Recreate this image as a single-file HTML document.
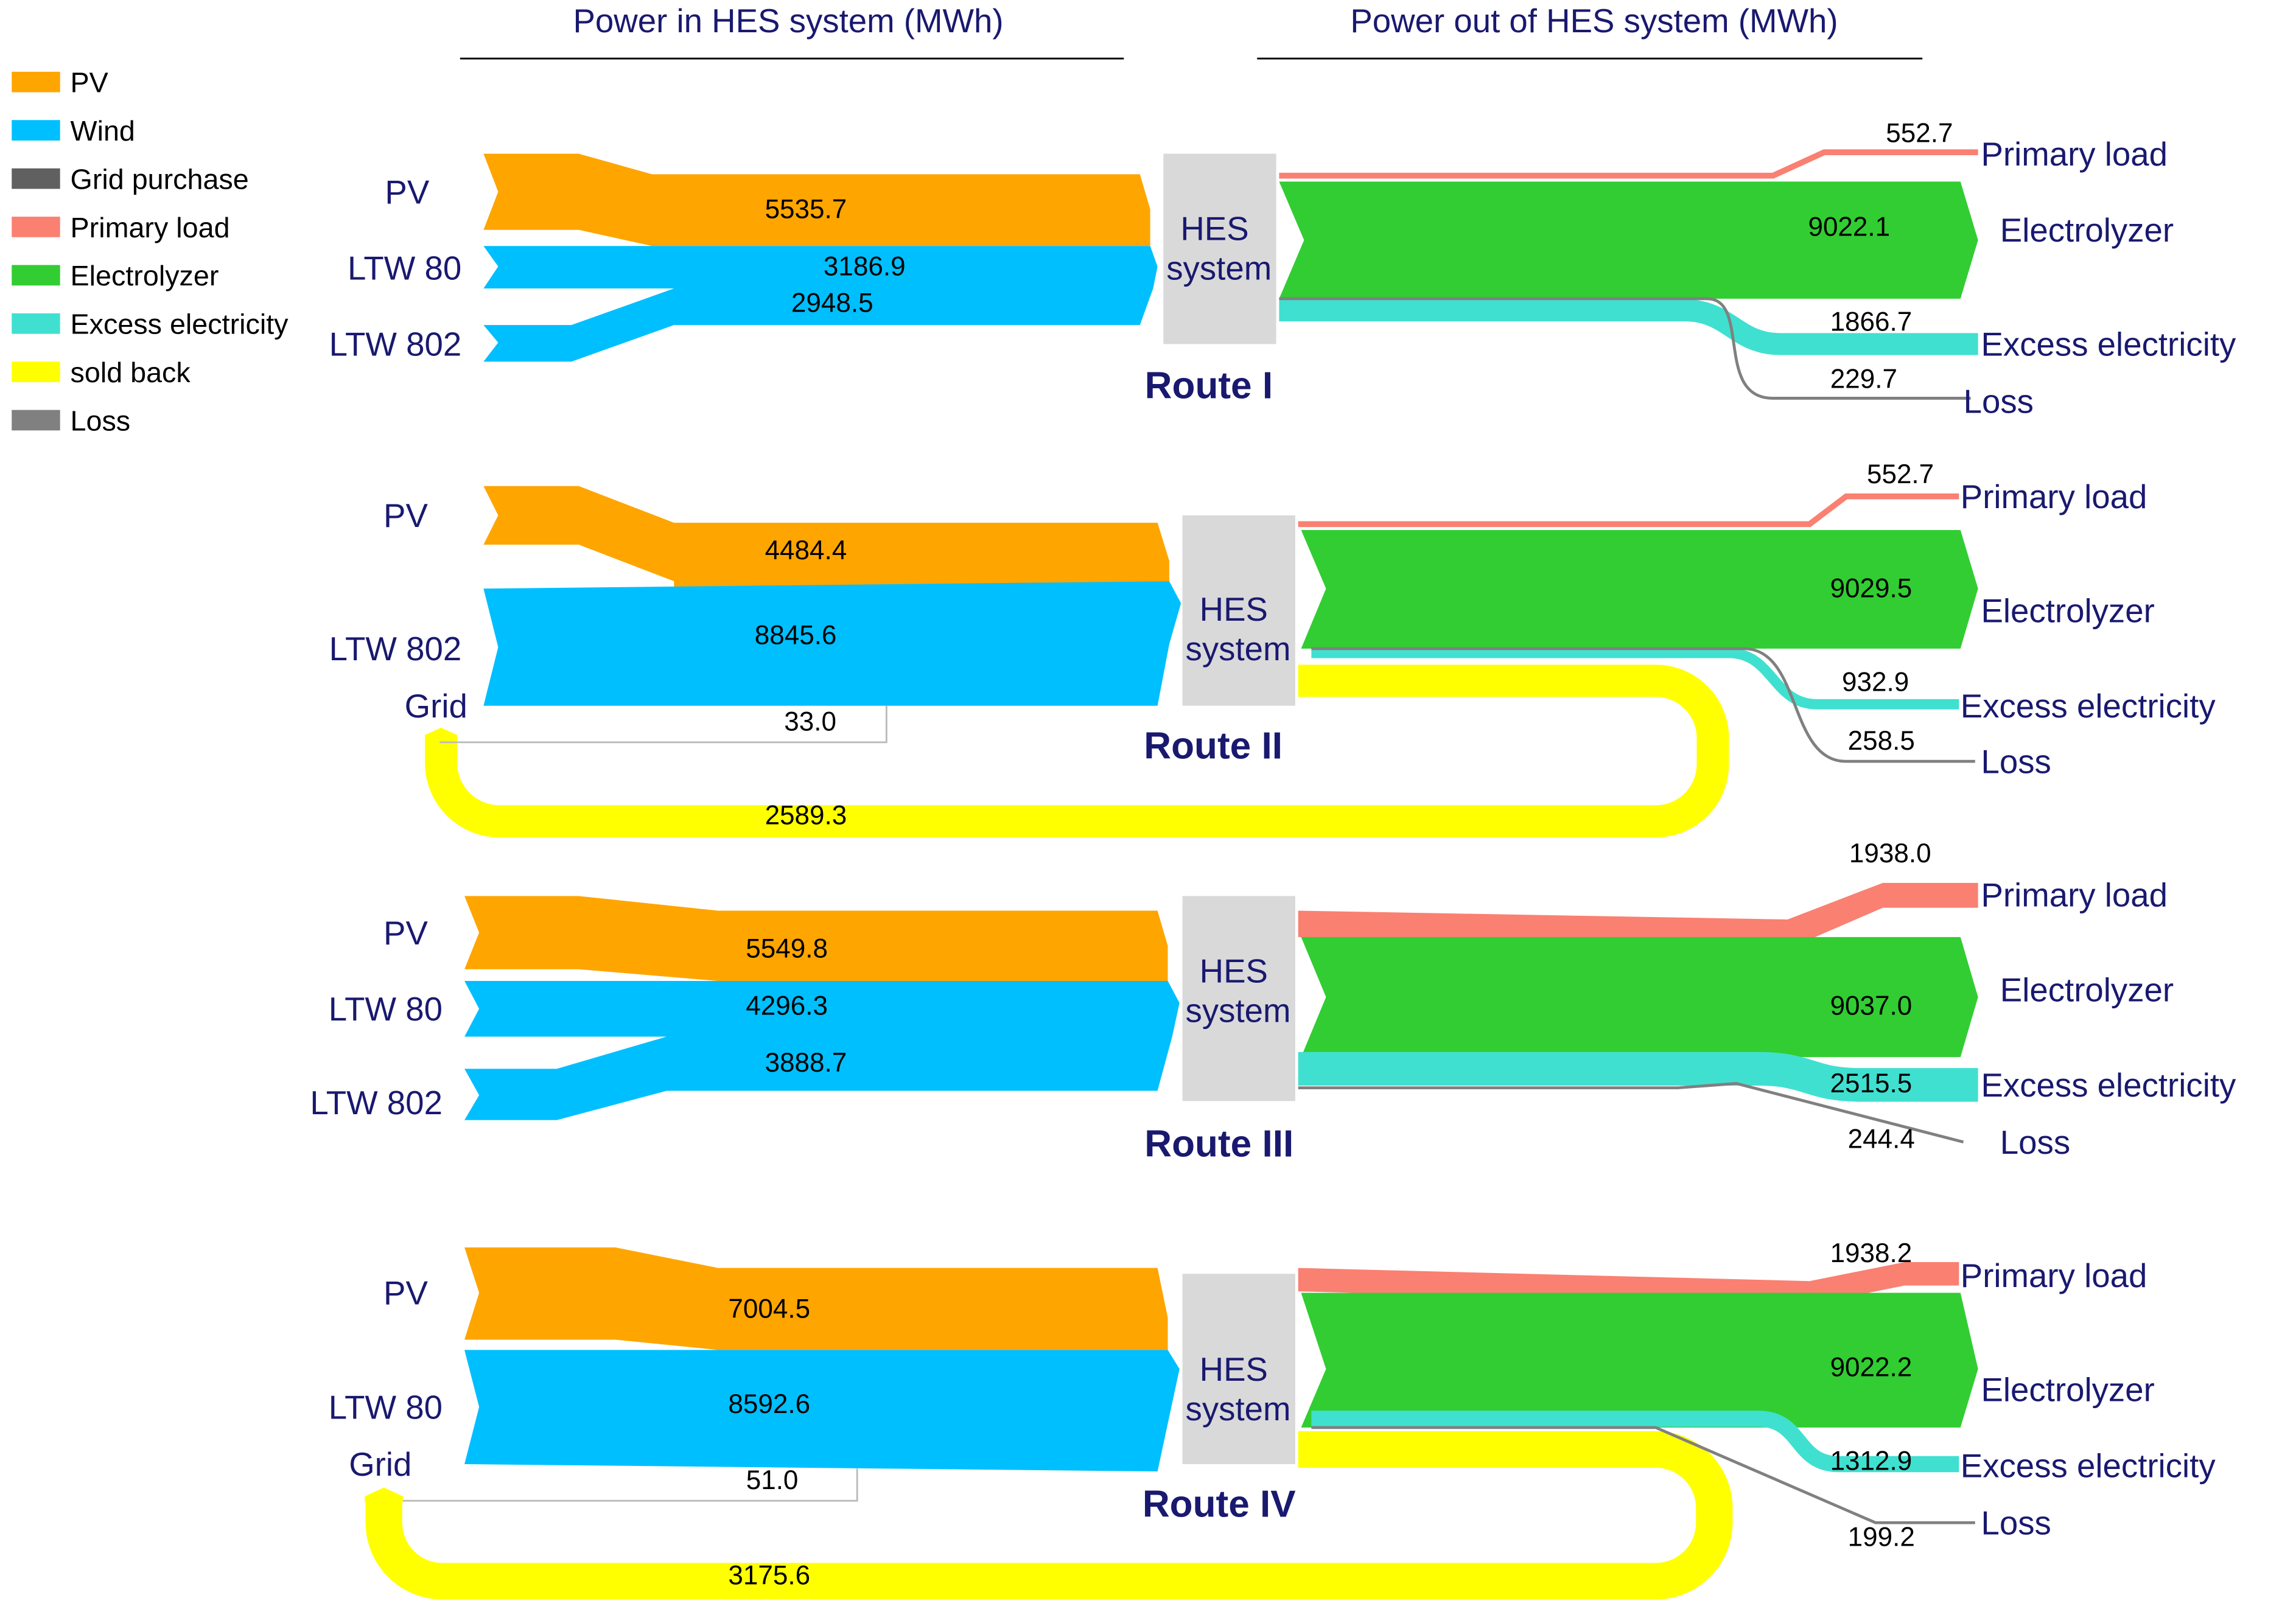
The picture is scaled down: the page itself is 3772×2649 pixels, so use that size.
<!DOCTYPE html>
<html><head><meta charset="utf-8"><style>
html,body{margin:0;padding:0;background:#fff;}
svg{display:block;}
text{font-family:"Liberation Sans",Arial,sans-serif;}
.n{fill:#191970;font-size:22.7px;}
.v{fill:#000;font-size:18.3px;text-anchor:middle;}
.lg{fill:#000;font-size:19.4px;}
.r{fill:#191970;font-size:25.8px;font-weight:bold;text-anchor:middle;}
.h{fill:#191970;font-size:22.7px;text-anchor:middle;}
</style></head><body>
<svg width="3772" height="2649" viewBox="0 0 1567 1101" preserveAspectRatio="none" xmlns="http://www.w3.org/2000/svg">
<rect width="1600" height="1120" fill="#fff"/>
<text x="538" y="22" class="h">Power in HES system (MWh)</text>
<line x1="314" y1="40" x2="767" y2="40" stroke="#000" stroke-width="1.2"/>
<text x="1088" y="22" class="h">Power out of HES system (MWh)</text>
<line x1="858" y1="40" x2="1312" y2="40" stroke="#000" stroke-width="1.2"/>
<g>
<rect x="8" y="49" width="33" height="14" fill="#FFA500"/><text x="48" y="63" class="lg">PV</text>
<rect x="8" y="82" width="33" height="14" fill="#00BFFF"/><text x="48" y="96" class="lg">Wind</text>
<rect x="8" y="115" width="33" height="14" fill="#606060"/><text x="48" y="129" class="lg">Grid purchase</text>
<rect x="8" y="148" width="33" height="14" fill="#FA8072"/><text x="48" y="162" class="lg">Primary load</text>
<rect x="8" y="181" width="33" height="14" fill="#32CD32"/><text x="48" y="195" class="lg">Electrolyzer</text>
<rect x="8" y="214" width="33" height="14" fill="#40E0D0"/><text x="48" y="228" class="lg">Excess electricity</text>
<rect x="8" y="247" width="33" height="14" fill="#FFFF00"/><text x="48" y="261" class="lg">sold back</text>
<rect x="8" y="280" width="33" height="14" fill="#808080"/><text x="48" y="294" class="lg">Loss</text>
</g>

<!-- ROUTE I -->
<polygon points="330,105 395,105 445,119 778,119 785,143 785,168 445,168 395,157 330,157 340,131" fill="#FFA500"/>
<polygon points="330,168 785,168 790,182 787,197 330,197 340,182" fill="#00BFFF"/>
<polygon points="330,222 390,222 460,197 787,197 778,222 460,222 390,247 330,247 340,234" fill="#00BFFF"/>
<rect x="794" y="105" width="77" height="130" fill="#d9d9d9"/>
<text x="829" y="164" class="n" text-anchor="middle">HES</text>
<text x="832" y="191" class="n" text-anchor="middle">system</text>
<text x="825" y="272" class="r">Route I</text>
<text x="550" y="149" class="v">5535.7</text>
<text x="590" y="188" class="v">3186.9</text>
<text x="568" y="213" class="v">2948.5</text>
<text x="315" y="139" class="n" text-anchor="end" dx="-22">PV</text>
<text x="315" y="191" class="n" text-anchor="end">LTW 80</text>
<text x="315" y="243" class="n" text-anchor="end">LTW 802</text>
<path d="M873,120 H1210 L1245,104 H1350" fill="none" stroke="#FA8072" stroke-width="4"/>
<polygon points="873,124 1338,124 1350,164 1338,204 873,204 890,164" fill="#32CD32"/>
<path d="M873,212 H1150 C1180,212 1185,235 1215,235 H1350" fill="none" stroke="#40E0D0" stroke-width="15"/>
<path d="M873,204 H1165 C1195,204 1170,272 1210,272 H1345" fill="none" stroke="#808080" stroke-width="2"/>
<text x="1310" y="97" class="v">552.7</text>
<text x="1262" y="161" class="v">9022.1</text>
<text x="1277" y="226" class="v">1866.7</text>
<text x="1272" y="265" class="v">229.7</text>
<text x="1352" y="113" class="n">Primary load</text>
<text x="1365" y="165" class="n">Electrolyzer</text>
<text x="1352" y="243" class="n">Excess electricity</text>
<text x="1340" y="282" class="n">Loss</text>

<!-- ROUTE II -->
<path d="M886,465 H1130 A39,39 0 0 1 1169,504 V522 A39,39 0 0 1 1130,561 H341 A40,40 0 0 1 301,521 V502" fill="none" stroke="#FFFF00" stroke-width="22"/>
<polygon points="290,502 301,497 312,502 312,506 290,506" fill="#FFFF00"/>
<polygon points="330,332 395,332 460,357 790,357 798,383 798,402 460,402 460,397 395,372 330,372 340,352" fill="#FFA500"/>
<polygon points="330,402 798,397 806,412 798,440 790,482 330,482 340,442" fill="#00BFFF"/>
<path d="M300,507 H605 V482" fill="none" stroke="#bbb" stroke-width="1.2"/>
<rect x="807" y="352" width="77" height="130" fill="#d9d9d9"/>
<text x="842" y="424" class="n" text-anchor="middle">HES</text>
<text x="845" y="451" class="n" text-anchor="middle">system</text>
<text x="828" y="518" class="r">Route II</text>
<text x="550" y="382" class="v">4484.4</text>
<text x="543" y="440" class="v">8845.6</text>
<text x="553" y="499" class="v">33.0</text>
<text x="550" y="563" class="v">2589.3</text>
<text x="292" y="360" class="n" text-anchor="end">PV</text>
<text x="315" y="451" class="n" text-anchor="end">LTW 802</text>
<text x="319" y="490" class="n" text-anchor="end">Grid</text>
<path d="M886,358 H1235 L1260,339 H1337" fill="none" stroke="#FA8072" stroke-width="4"/>
<polygon points="888,362 1338,362 1350,402 1338,443 888,443 905,402" fill="#32CD32"/>
<path d="M895,446 H1180 C1210,446 1210,481 1240,481 H1337" fill="none" stroke="#40E0D0" stroke-width="7"/>
<path d="M895,443 H1190 C1230,443 1220,520 1260,520 H1348" fill="none" stroke="#808080" stroke-width="2"/>
<text x="1297" y="330" class="v">552.7</text>
<text x="1277" y="408" class="v">9029.5</text>
<text x="1280" y="472" class="v">932.9</text>
<text x="1284" y="512" class="v">258.5</text>
<text x="1338" y="347" class="n">Primary load</text>
<text x="1352" y="425" class="n">Electrolyzer</text>
<text x="1338" y="490" class="n">Excess electricity</text>
<text x="1352" y="528" class="n">Loss</text>

<!-- ROUTE III -->
<polygon points="317,612 395,612 490,622 790,622 797,646 797,670 490,670 395,662 317,662 327,637" fill="#FFA500"/>
<polygon points="317,670 797,670 805,685 800,708 317,708 327,689" fill="#00BFFF"/>
<polygon points="317,730 380,730 455,708 800,708 790,745 455,745 380,765 317,765 327,748" fill="#00BFFF"/>
<rect x="807" y="612" width="77" height="140" fill="#d9d9d9"/>
<text x="842" y="671" class="n" text-anchor="middle">HES</text>
<text x="845" y="698" class="n" text-anchor="middle">system</text>
<text x="832" y="790" class="r">Route III</text>
<text x="537" y="654" class="v">5549.8</text>
<text x="537" y="693" class="v">4296.3</text>
<text x="550" y="732" class="v">3888.7</text>
<text x="292" y="645" class="n" text-anchor="end">PV</text>
<text x="302" y="697" class="n" text-anchor="end">LTW 80</text>
<text x="302" y="761" class="n" text-anchor="end">LTW 802</text>
<polygon points="886,622 1220,628 1285,603 1350,603 1350,620 1285,620 1225,646 886,640" fill="#FA8072"/>
<polygon points="888,640 1338,640 1350,681 1338,722 888,722 905,681" fill="#32CD32"/>
<path d="M886,730 H1200 C1235,730 1235,741 1270,741 H1350" fill="none" stroke="#40E0D0" stroke-width="23"/>
<path d="M886,743 H1145 L1185,740 L1340,780" fill="none" stroke="#808080" stroke-width="2"/>
<text x="1290" y="589" class="v">1938.0</text>
<text x="1277" y="693" class="v">9037.0</text>
<text x="1277" y="746" class="v">2515.5</text>
<text x="1284" y="784" class="v">244.4</text>
<text x="1352" y="619" class="n">Primary load</text>
<text x="1365" y="684" class="n">Electrolyzer</text>
<text x="1352" y="749" class="n">Excess electricity</text>
<text x="1365" y="788" class="n">Loss</text>

<!-- ROUTE IV -->
<path d="M886,990 H1130 A40,40 0 0 1 1170,1030 V1040 A40,40 0 0 1 1130,1080 H302 A40,40 0 0 1 262,1040 V1022" fill="none" stroke="#FFFF00" stroke-width="25"/>
<polygon points="249,1022 262,1016 275,1022 275,1026 249,1026" fill="#FFFF00"/>
<polygon points="317,852 420,852 490,866 790,866 797,900 797,922 490,922 420,915 317,915 327,883" fill="#FFA500"/>
<polygon points="317,922 797,922 805,935 790,1005 317,1000 327,961" fill="#00BFFF"/>
<path d="M275,1025 H585 V1003" fill="none" stroke="#bbb" stroke-width="1.2"/>
<rect x="807" y="870" width="77" height="130" fill="#d9d9d9"/>
<text x="842" y="943" class="n" text-anchor="middle">HES</text>
<text x="845" y="970" class="n" text-anchor="middle">system</text>
<text x="832" y="1036" class="r">Route IV</text>
<text x="525" y="900" class="v">7004.5</text>
<text x="525" y="965" class="v">8592.6</text>
<text x="527" y="1017" class="v">51.0</text>
<text x="525" y="1082" class="v">3175.6</text>
<text x="292" y="891" class="n" text-anchor="end">PV</text>
<text x="302" y="969" class="n" text-anchor="end">LTW 80</text>
<text x="281" y="1008" class="n" text-anchor="end">Grid</text>
<polygon points="886,866 1235,875 1300,862 1337,862 1337,878 1300,878 1235,891 886,882" fill="#FA8072"/>
<polygon points="888,883 1338,883 1350,935 1338,975 888,975 905,935" fill="#32CD32"/>
<path d="M895,969 H1200 C1230,969 1225,1000 1255,1000 H1337" fill="none" stroke="#40E0D0" stroke-width="11"/>
<path d="M895,975 H1130 L1280,1040 H1348" fill="none" stroke="#808080" stroke-width="2"/>
<text x="1277" y="862" class="v">1938.2</text>
<text x="1277" y="940" class="v">9022.2</text>
<text x="1277" y="1004" class="v">1312.9</text>
<text x="1284" y="1056" class="v">199.2</text>
<text x="1338" y="879" class="n">Primary load</text>
<text x="1352" y="957" class="n">Electrolyzer</text>
<text x="1338" y="1009" class="n">Excess electricity</text>
<text x="1352" y="1048" class="n">Loss</text>
</svg>
</body></html>
